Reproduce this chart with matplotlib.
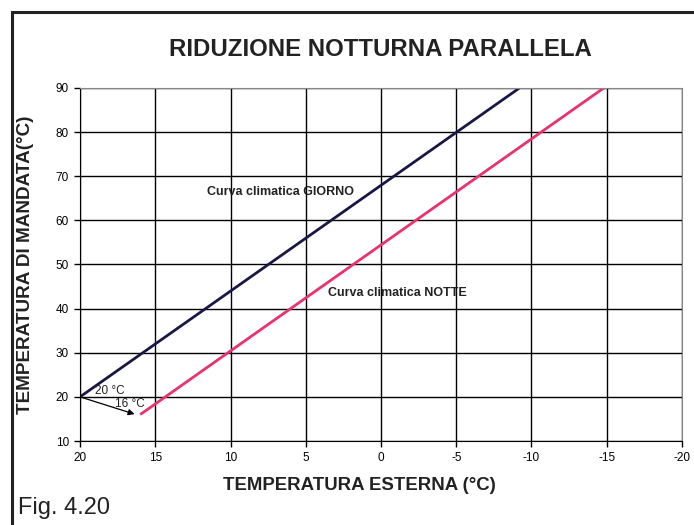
import matplotlib.pyplot as plt
from matplotlib.patches import Rectangle

# curve climatiche (temperatura esterna -> temperatura di mandata)
giorno_x = [20, -9.2]
giorno_y = [20, 90]
notte_x = [16, -14.8]
notte_y = [16, 90]

xticks = [20, 15, 10, 5, 0, -5, -10, -15, -20]
yticks = [10, 20, 30, 40, 50, 60, 70, 80, 90]

plt.rcParams['font.family'] = ['Liberation Sans', 'DejaVu Sans']

fig = plt.figure(figsize=(6.94, 5.25), dpi=100)
ax = fig.add_axes([0.1153, 0.16, 0.8674, 0.6724])

# cornice esterna
fig.patches.append(Rectangle((0.0166, -0.1), 1.2, 1.077, transform=fig.transFigure,
                             fill=False, edgecolor='#222222', lw=2.2))

ax.plot(giorno_x, giorno_y, color='#1b1745', lw=2, solid_capstyle='butt')
ax.plot(notte_x, notte_y, color='#e8336f', lw=2, solid_capstyle='butt')

ax.set_xlim(20, -20)
ax.set_ylim(10, 90)
ax.set_xticks(xticks)
ax.set_yticks(yticks)
ax.set_xticklabels([str(v) for v in xticks])
ax.set_yticklabels([str(v) for v in yticks])
ax.tick_params(labelsize=8.5, length=4, width=1, direction='out', pad=4)
ax.grid(True, color='black', lw=1)
ax.set_axisbelow(True)
for s in ['top', 'right']:
    ax.spines[s].set_color('#888888')
for s in ['left', 'bottom']:
    ax.spines[s].set_color('black')

fig.text(359 / 694, 1 - 486 / 525, 'TEMPERATURA ESTERNA (°C)', fontsize=13.4,
         fontweight='bold', ha='center', va='center', color='#222222')
fig.text(26 / 694, 1 - 265 / 525, 'TEMPERATURA DI MANDATA(°C)', fontsize=13.6,
         fontweight='bold', ha='center', va='center', rotation=90, color='#222222')
fig.text(380 / 694, 1 - 49 / 525, 'RIDUZIONE NOTTURNA PARALLELA', fontsize=17.3,
         fontweight='bold', ha='center', va='center', color='#222222')

ax.text(11.55, 66.5, 'Curva climatica GIORNO', fontsize=9, fontweight='bold',
        va='center', ha='left', color='#222222')
ax.text(3.5, 43.6, 'Curva climatica NOTTE', fontsize=9, fontweight='bold',
        va='center', ha='left', color='#222222')

# riduzione notturna: da 20 °C a 16 °C
ax.annotate('', xy=(16.2, 15.9), xytext=(20, 20),
            arrowprops=dict(arrowstyle='-|>', color='black', lw=0.9, mutation_scale=9))
ax.text(19.0, 21.4, '20 °C', fontsize=8.5, va='center', color='#222222')
ax.text(17.7, 18.3, '16 °C', fontsize=8.5, va='center', color='#222222')

fig.text(18 / 694, 1 - 508 / 525, 'Fig. 4.20', fontsize=17, va='center', color='#222222')

fig.savefig('out.png', dpi=100)
